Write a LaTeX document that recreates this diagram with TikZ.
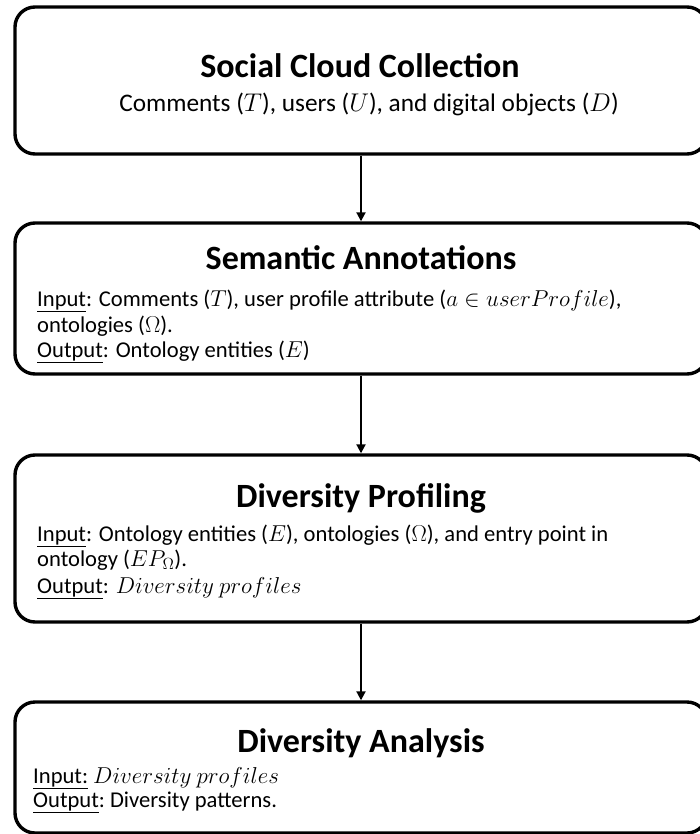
\RequirePackage{fix-cm}
\documentclass[tikz,border=0pt]{standalone}
\usepackage{fontspec}
\setmainfont{Carlito}
\usetikzlibrary{arrows.meta}
% math symbols set a little larger than the surrounding text
\newcommand\bodymath[1]{{\fontsize{23}{26}\selectfont$#1$}}
\newcommand\submath[1]{{\fontsize{25.6}{28}\selectfont$#1$}}
\begin{document}
\begin{tikzpicture}[x=1pt,y=-1pt,
  stage/.style={draw=black, line width=3.4pt, rounded corners=20pt,
    minimum width=692pt, inner sep=0pt, fill=white},
  flow/.style={draw=black, line width=2pt, -{Triangle[width=9pt,length=9pt]}},
  heading/.style={anchor=base, inner sep=0pt, font=\fontsize{34}{40}\selectfont\bfseries},
  subline/.style={anchor=base, inner sep=0pt, font=\fontsize{25.3}{30}\selectfont},
  body/.style={anchor=base west, inner sep=0pt, font=\fontsize{22.6}{26}\selectfont}]
\useasboundingbox (0,0) rectangle (700,834);
\clip (0,0) rectangle (700,834);
\fill[white] (0,0) rectangle (700,834);

% stage boxes
\node[stage, minimum height=147pt] (b1) at (361,80.5) {};
\node[stage, minimum height=151pt] (b2) at (361,298.5) {};
\node[stage, minimum height=167pt] (b3) at (361,538.5) {};
\node[stage, minimum height=131pt] (b4) at (361,767.5) {};

% connectors
\draw[flow] (b1.south) -- (b2.north);
\draw[flow] (b2.south) -- (b3.north);
\draw[flow] (b3.south) -- (b4.north);

% Social Cloud Collection
\node[heading] (t1) at (360,78) {Social Cloud Collection};
\node[subline] (s1) at (369,112) {Comments (\submath{T}), users (\submath{U}), and digital objects (\submath{D})};

% Semantic Annotations
\node[heading] (t2) at (361,269) {Semantic Annotations};
\node[body] (i2a) at (37,306) {\underline{Input}: Comments (\bodymath{T}), user profile attribute (\bodymath{a \in userProfile}),};
\node[body] (i2b) at (37,332) {ontologies (\bodymath{\Omega}).};
\node[body] (o2) at (37,357) {\underline{Output}: Ontology entities (\bodymath{E})};

% Diversity Profiling
\node[heading] (t3) at (361,507) {Diversity Profiling};
\node[body] (i3a) at (37,541) {\underline{Input}: Ontology entities (\bodymath{E}), ontologies (\bodymath{\Omega}), and entry point in};
\node[body] (i3b) at (37,566) {ontology (\bodymath{EP_{\Omega}}).};
\node[body] (o3) at (37,593) {\underline{Output}: \bodymath{Diversity\ profiles}};

% Diversity Analysis
\node[heading] (t4) at (361,752) {Diversity Analysis};
\node[body] (i4) at (33,783) {\underline{Input:} \bodymath{Diversity\ profiles}};
\node[body] (o4) at (33,807) {\underline{Output}:\ Diversity patterns.};
\end{tikzpicture}
\end{document}
